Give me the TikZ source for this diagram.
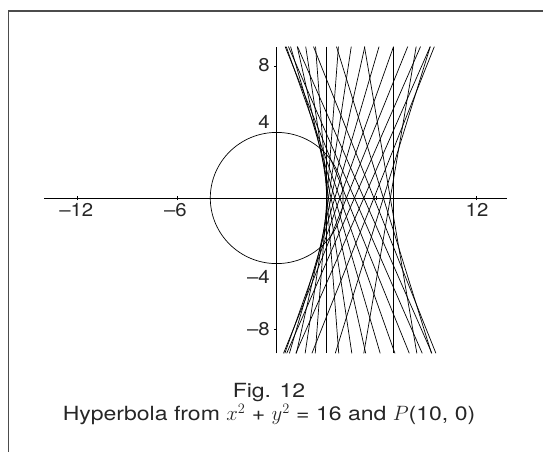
\documentclass[tikz,border=0pt]{standalone}
\usepackage{fontspec}
\setmainfont{TeX Gyre Heros}
\usetikzlibrary{positioning}

\begin{document}
\begin{tikzpicture}[
    x=16.6pt, y=16.4pt,
    every node/.style={font=\fontsize{18.5}{22}\selectfont\addfontfeature{FakeStretch=1.1}, text=black!85, inner sep=0pt},
    caption/.style={font=\fontsize{19.5}{24}\selectfont\addfontfeature{FakeStretch=1.18}},
    frame/.style={draw=black!70, line width=1.3pt},
    axis/.style={draw=black, line width=0.8pt},
    bisector/.style={draw=black, line width=0.7pt},
    tickmark/.style={draw=black, line width=0.8pt}
]
\useasboundingbox (-276.7pt,-253pt) rectangle (266.3pt,198pt);
\draw[frame] (-268.2pt,-260pt) -- (-268.2pt,187pt) -- (270pt,187pt);
\draw[axis] (-14,0) -- (13.9,0);
\draw[axis] (0,-9.47) -- (0,9.23);
\foreach \v in {-12,-6,6,12} \draw[tickmark] (\v,0) ++(0,-2pt) -- ++(0,4pt);
\foreach \v in {-8,-4,4,8} \draw[tickmark] (0,\v) -- ++(-3pt,0);
\node[anchor=base] (xm12) at (-200.4pt,-18.7pt) {--12};
\node[anchor=base] (xm6) at (-101.2pt,-18.7pt) {--6};
\node[anchor=base] (xp12) at (200.3pt,-18.7pt) {12};
\node[anchor=base east] (yp8) at (-6.7pt,126.3pt) {8};
\node[anchor=base east] (yp4) at (-6.7pt,69.7pt) {4};
\node[anchor=base east] (ym4) at (-6.7pt,-85.3pt) {--4};
\node[anchor=base east] (ym8) at (-6.7pt,-137pt) {--8};
\draw[bisector] (0,0) circle (4);
\foreach \t in {0,15,...,345}{
  \pgfmathsetmacro\xt{(-42-4*sin(\t)*9.23)/(4*cos(\t)-10)}
  \pgfmathsetmacro\xb{(-42+4*sin(\t)*9.47)/(4*cos(\t)-10)}
  \draw[bisector] (\xt,9.23) -- (\xb,-9.47);
}
\node[caption, anchor=base] (fig) at (-7.7pt,-199.7pt) {Fig. 12};
\node[caption, anchor=base] (cap) at (-7.7pt,-222.7pt) {Hyperbola from $x^2$ + $y^2$ = 16 and $P$(10, 0)};
\end{tikzpicture}
\end{document}
